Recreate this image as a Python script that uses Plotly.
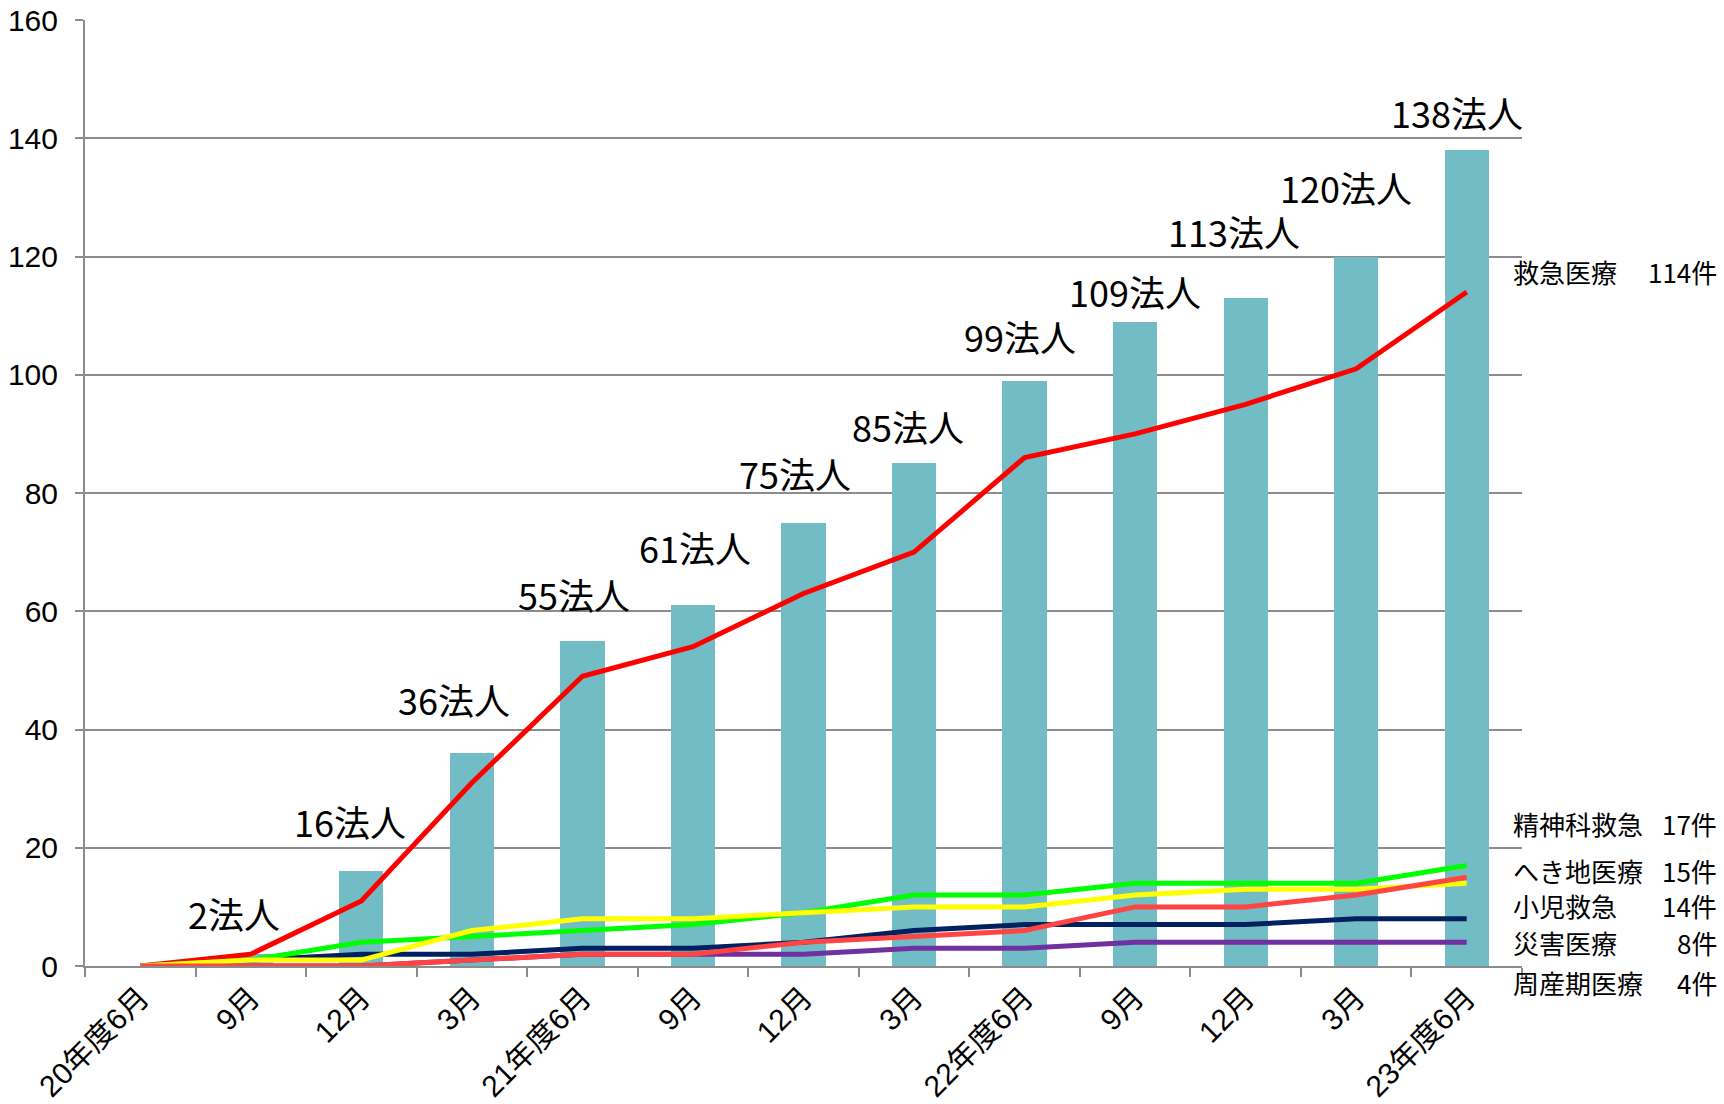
import plotly.graph_objects as go

# ---- data ----
categories = ["20年度6月", "9月", "12月", "3月", "21年度6月", "9月", "12月", "3月",
              "22年度6月", "9月", "12月", "3月", "23年度6月"]
corporations = [None, 2, 16, 36, 55, 61, 75, 85, 99, 109, 113, 120, 138]
kyukyu = [0, 2, 11, 31, 49, 54, 63, 70, 86, 90, 95, 101, 114]        # 救急医療
seishin = [0, 1, 4, 5, 6, 7, 9, 12, 12, 14, 14, 14, 17]             # 精神科救急
hekichi = [0, 0, 0, 1, 2, 2, 4, 5, 6, 10, 10, 12, 15]               # へき地医療
shoni = [0, 1, 1, 6, 8, 8, 9, 10, 10, 12, 13, 13, 14]               # 小児救急
saigai = [0, 1, 2, 2, 3, 3, 4, 6, 7, 7, 7, 8, 8]                    # 災害医療
shusanki = [0, 0, 0, 1, 2, 2, 2, 3, 3, 4, 4, 4, 4]                  # 周産期医療

side_names = ["救急医療", "精神科救急", "へき地医療", "小児救急", "災害医療", "周産期医療"]
side_counts = ["114件", "17件", "15件", "14件", "8件", "4件"]

# ---- styling / layout helpers ----
W, H = 1724, 1104
ML, MR, MT, MB = 85, 202, 20, 138
plot_h = H - MT - MB
plot_w = W - ML - MR
x = list(range(len(categories)))

# label placement tweaks (pixels) for bar labels
label_lift_px = [0, 41, 50, 54, 47, 58, 50, 37, 45, 31, 67, 70, 38]
label_dx_px = [0, -17, -11, -18, -8, 2, -9, -6, -5, 0, -12, -10, -10]
# pixel y centers of the side labels
side_y_px = [271, 823, 870, 905, 942, 982]

CJK = "Noto Sans CJK JP"
grid_c = "#8c8c8c"

fig = go.Figure()
fig.add_trace(go.Bar(x=x, y=corporations, width=0.4, marker=dict(color="#72bdc5", line=dict(width=0)),
                     hoverinfo="skip"))

line_specs = [
    (kyukyu, "#ff0000"),
    (shusanki, "#7030a0"),
    (saigai, "#002060"),
    (seishin, "#00ff00"),
    (shoni, "#ffff00"),
    (hekichi, "#ff4444"),
]
for vals, col in line_specs:
    fig.add_trace(go.Scatter(x=x, y=vals, mode="lines", line=dict(color=col, width=5),
                             hoverinfo="skip"))

annotations = []
for i, v in enumerate(corporations):
    if v is None:
        continue
    annotations.append(dict(x=i, y=v, xref="x", yref="y", text=f"{v}法人", showarrow=False,
                            yanchor="middle", xanchor="center",
                            yshift=label_lift_px[i], xshift=label_dx_px[i],
                            font=dict(family=CJK, size=36, color="#000000")))

for name, cnt, py in zip(side_names, side_counts, side_y_px):
    yp = (H - MB - py) / plot_h
    annotations.append(dict(x=(1512 - ML) / plot_w, y=yp, xref="paper", yref="paper", text=name,
                            showarrow=False, xanchor="left", yanchor="middle", borderpad=0,
                            font=dict(family=CJK, size=26, color="#000000")))
    annotations.append(dict(x=(1718 - ML) / plot_w, y=yp, xref="paper", yref="paper", text=cnt,
                            showarrow=False, xanchor="right", yanchor="middle", borderpad=0,
                            font=dict(family=CJK, size=26, color="#000000")))

fig.update_layout(
    width=W, height=H,
    margin=dict(l=ML, r=MR, t=MT, b=MB, pad=0, autoexpand=False),
    paper_bgcolor="white", plot_bgcolor="white",
    showlegend=False,
    bargap=0,
    annotations=annotations,
    xaxis=dict(range=[-0.5, 12.5], tickmode="array", tickvals=x, ticktext=categories,
               tickangle=-45, ticks="", showgrid=False, zeroline=False, automargin=False,
               showline=True, linecolor=grid_c, linewidth=2,
               tickfont=dict(family=f"Liberation Sans, {CJK}", size=30, color="#000000"),
               minor=dict(tickmode="array", tickvals=[i - 0.5 for i in range(len(categories) + 1)],
                          ticks="outside", ticklen=9, tickwidth=2, tickcolor=grid_c, showgrid=False)),
    yaxis=dict(range=[0, 160], dtick=20, tick0=0, showgrid=True, gridcolor=grid_c, gridwidth=2,
               zeroline=False, showline=True, linecolor=grid_c, linewidth=2, automargin=False,
               ticks="outside", ticklen=8, tickwidth=2, tickcolor=grid_c,
               ticklabelstandoff=11,
               tickfont=dict(family="Liberation Sans, Arial", size=30, color="#000000")),
)

fig.write_html("out.html")
